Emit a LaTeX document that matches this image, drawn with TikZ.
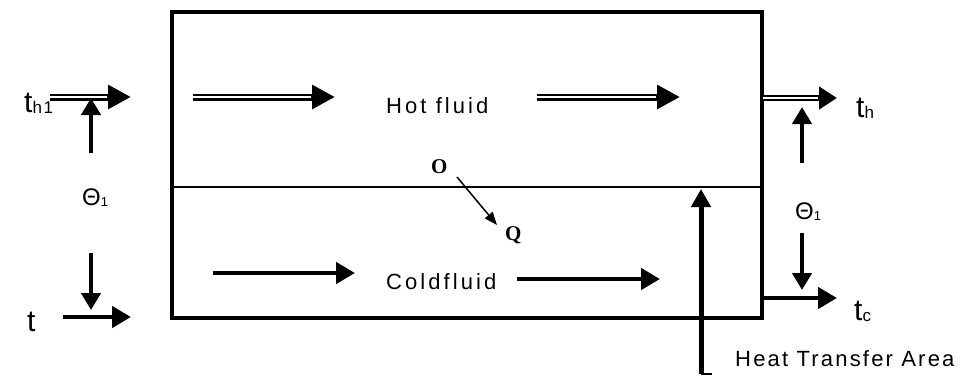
\documentclass[tikz,border=0pt]{standalone}
\usepackage{fontspec}
\setmainfont{Liberation Sans}[LetterSpace=10]
\newfontfamily\serifbold{Liberation Serif}
\usetikzlibrary{arrows.meta}

\tikzset{
  hotarrow/.style={-{Triangle[length=23pt,width=23pt]}, line width=7pt,
    postaction={draw=white, line width=2.2pt, -, shorten >=24pt}},
  outarrow/.style={-{Triangle[length=18pt,width=22pt]}, line width=6pt,
    postaction={draw=white, line width=2.4pt, -, shorten >=19pt}},
  coldarrow/.style={-{Triangle[length=19pt,width=21pt]}, line width=4.5pt},
  tarrow/.style={-{Triangle[length=17pt,width=19pt]}, line width=4.5pt},
  qarrow/.style={-{Triangle[length=13pt,width=10pt]}, line width=1.5pt},
  lbl/.style={inner sep=0pt, anchor=base west},
  biglbl/.style={lbl, font=\fontsize{30}{32}\selectfont},
  txtlbl/.style={lbl, font=\fontsize{22}{24}\selectfont\addfontfeature{LetterSpace=14}},
  thetalbl/.style={lbl, font=\fontsize{24}{26}\selectfont},
  qlbl/.style={lbl, font=\serifbold\bfseries\fontsize{21}{23}\selectfont}
}

\begin{document}
\begin{tikzpicture}[x=1pt,y=-1pt]
  \useasboundingbox (0,0) rectangle (964,376);

  % exchanger
  \draw[line width=3.5pt] (172,12) rectangle (762,318);
  \coordinate (wl) at (172,187);
  \coordinate (wr) at (762,187);
  \draw[line width=1.8pt] (wl) -- (wr);

  % hot fluid
  \coordinate (ha) at (193,97);
  \coordinate (hb) at (335,97);
  \coordinate (hc) at (537,97);
  \coordinate (hd) at (680,97);
  \draw[hotarrow] (ha) -- (hb);
  \draw[hotarrow] (hc) -- (hd);
  \node[txtlbl] (hot) at (386,113) {Hot fluid};

  % cold fluid
  \coordinate (ca) at (213,273);
  \coordinate (cb) at (355,273);
  \coordinate (cc) at (517,279);
  \coordinate (cd) at (660,279);
  \draw[coldarrow] (ca) -- (cb);
  \draw[coldarrow] (cc) -- (cd);
  \node[txtlbl] (cold) at (386,289) {Coldfluid};

  % heat flow through the wall
  \node[qlbl] (qin) at (431,173) {O};
  \node[qlbl] (qout) at (505,240) {Q};
  \coordinate (qa) at (457,177);
  \coordinate (qb) at (497,225);
  \draw[qarrow] (qa) -- (qb);

  % inlet side
  \node[biglbl] (th1) at (24,112) {t\raisebox{-1pt}{\fontsize{17}{18}\selectfont h1}};
  \coordinate (ia) at (50,97);
  \coordinate (ib) at (131,97);
  \draw[hotarrow] (ia) -- (ib);
  \node[thetalbl] (thl) at (82,205) {Θ\raisebox{-1pt}{\fontsize{13}{14}\selectfont 1}};
  \coordinate (la) at (91,153);
  \coordinate (lb) at (91,98);
  \coordinate (lc) at (91,253);
  \coordinate (ld) at (91,310);
  \draw[tarrow] (la) -- (lb);
  \draw[tarrow] (lc) -- (ld);
  \node[biglbl] (tin) at (27,331) {t};
  \coordinate (ja) at (63,317);
  \coordinate (jb) at (131,317);
  \draw[coldarrow] (ja) -- (jb);

  % outlet side
  \coordinate (oa) at (763,98);
  \coordinate (ob) at (837,98);
  \draw[outarrow] (oa) -- (ob);
  \node[biglbl] (th) at (856,117) {t\raisebox{-1pt}{\fontsize{17}{18}\selectfont h}};
  \node[thetalbl] (thr) at (795,219) {Θ\raisebox{-1pt}{\fontsize{13}{14}\selectfont 1}};
  \coordinate (ra) at (802,163);
  \coordinate (rb) at (802,107);
  \coordinate (rc) at (802,233);
  \coordinate (rd) at (802,290);
  \draw[tarrow] (ra) -- (rb);
  \draw[tarrow] (rc) -- (rd);
  \coordinate (pa) at (763,298);
  \coordinate (pb) at (837,298);
  \draw[coldarrow] (pa) -- (pb);
  \node[biglbl] (tc) at (854,320) {t\raisebox{-1pt}{\fontsize{17}{18}\selectfont c}};

  % heat transfer area
  \coordinate (aa) at (701,374);
  \coordinate (ab) at (701,189);
  \coordinate (ac) at (712,374);
  \draw[-{Triangle[length=18pt,width=19pt]}, line width=5pt] (aa) -- (ab);
  \draw[line width=1.5pt] (aa) -- (ac);
  \node[lbl, font=\fontsize{22}{24}\selectfont] (area) at (735,366) {Heat Transfer Area};
\end{tikzpicture}
\end{document}
